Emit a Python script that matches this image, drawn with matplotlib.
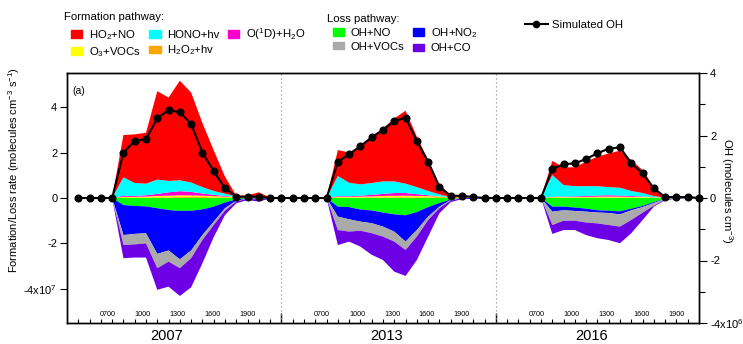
import numpy as np
import matplotlib.pyplot as plt
from matplotlib.patches import Patch
from matplotlib.lines import Line2D

plt.rcParams['font.family'] = ['Liberation Sans', 'DejaVu Sans']
plt.rcParams['mathtext.fontset'] = 'custom'
plt.rcParams['mathtext.rm'] = 'Liberation Sans'
plt.rcParams['mathtext.default'] = 'regular'

years = ['2007', '2013', '2016']
hour_labels = ['0700', '1000', '1300', '1600', '1900']
# one point per hour from 0400; 2007 and 2013 run to 2200, 2016 to 2100

# formation rates (1e7 molecules cm-3 s-1), one list per year
h2o2_hv = [[0, 0, 0, 0, .02, .02, .02, .03, .03, .04, .04, .04, .03, .03, .03, .03, .03, .01, 0],
           [0, 0, 0, 0, .02, .02, .02, .03, .03, .03, .03, .03, .03, .04, .03, .05, .05, .03, 0],
           [0, 0, 0, 0, .02, .02, .02, .02, .02, .02, .02, .02, .02, .02, .01, .02, .02, .02]]
o3_vocs = [[0, 0, 0, 0, .03, .03, .04, .06, .07, .08, .07, .06, .05, .03, .02, .02, .01, .01, 0],
           [0, 0, 0, 0, .03, .03, .04, .04, .06, .07, .07, .06, .05, .03, .01, .01, .01, 0, 0],
           [0, 0, 0, 0, .02, .02, .02, .03, .04, .04, .04, .03, .03, .01, 0, .01, .01, .01]]
o1d_h2o = [[0, 0, 0, 0, .05, .04, .06, .09, .15, .18, .16, .10, .06, .03, 0, 0, 0, 0, 0],
           [0, 0, 0, 0, .03, .03, .04, .07, .09, .12, .12, .08, .04, 0, 0, 0, 0, 0, 0],
           [0, 0, 0, 0, .02, .02, .03, .04, .05, .06, .05, .04, .02, .01, 0, 0, 0, 0]]
hono_hv = [[0, 0, 0, 0, .81, .57, .51, .63, .50, .48, .41, .28, .17, .10, .02, 0, 0, 0, 0],
           [0, 0, 0, 0, .89, .59, .50, .52, .55, .51, .41, .31, .19, .09, 0, 0, 0, 0, 0],
           [0, 0, 0, 0, .95, .51, .45, .43, .41, .36, .34, .22, .15, .05, 0, 0, 0, 0]]
ho2_no = [[0, 0, 0, 0, 1.86, 2.14, 2.24, 3.89, 3.67, 4.38, 3.96, 2.82, 1.79, .75, .03, .07, .21, 0, 0],
          [0, 0, 0, 0, 1.14, 1.33, 1.69, 2.04, 2.33, 2.77, 3.21, 2.22, 1.36, .41, .09, .01, 0, 0, 0],
          [0, 0, 0, 0, .62, .78, .83, 1.08, 1.30, 1.48, 1.63, 1.36, 1.01, .38, .03, 0, 0, 0]]

# loss rates (1e7 molecules cm-3 s-1)
oh_no = [[0, 0, 0, 0, .31, .35, .37, .45, .53, .57, .56, .50, .38, .20, .06, .01, .01, 0, 0],
         [0, 0, 0, 0, .38, .40, .51, .55, .64, .72, .76, .62, .40, .22, .07, 0, 0, 0, 0],
         [0, 0, 0, 0, .38, .38, .42, .47, .54, .56, .59, .47, .35, .18, .03, 0, 0, 0]]
oh_no2 = [[0, 0, 0, 0, 1.32, 1.23, 1.18, 2.01, 1.78, 2.13, 1.75, 1.13, .66, .25, .06, .02, .03, 0, 0],
          [0, 0, 0, 0, .44, .54, .53, .56, .62, .76, 1.16, .79, .42, .16, .02, 0, 0, 0, 0],
          [0, 0, 0, 0, .22, .16, .15, .13, .10, .10, .13, .07, .05, .04, .01, 0, 0, 0]]
oh_vocs = [[0, 0, 0, 0, .44, .46, .45, .63, .49, .39, .34, .22, .15, .11, .03, .01, .02, 0, 0],
           [0, 0, 0, 0, .59, .54, .40, .44, .44, .44, .37, .29, .15, .07, .03, 0, 0, 0, 0],
           [0, 0, 0, 0, .59, .46, .43, .48, .48, .53, .54, .43, .25, .12, .03, 0, 0, 0]]
oh_co = [[0, 0, 0, 0, .58, .58, .62, .95, 1.10, 1.22, 1.28, 1.02, .53, .19, .08, .05, .10, .02, 0],
         [0, 0, 0, 0, .66, .44, .70, .95, 1.03, 1.32, 1.14, 1.03, .73, .22, .06, .05, .04, .01, 0],
         [0, 0, 0, 0, .39, .41, .41, .55, .65, .66, .73, .58, .32, .04, .03, .03, .02, .01]]

# simulated OH (1e6 molecules cm-3)
oh_sim = [[0, 0, 0, 0, 1.45, 1.83, 1.88, 2.55, 2.82, 2.74, 2.37, 1.45, .86, .31, .04, .04, .04, 0, 0],
          [0, 0, 0, 0, 1.16, 1.40, 1.66, 1.94, 2.18, 2.46, 2.57, 1.82, 1.16, .36, .07, .07, .03, 0, 0],
          [0, 0, 0, 0, .93, 1.08, 1.11, 1.25, 1.43, 1.58, 1.62, 1.11, .79, .31, .03, .03, .03, 0]]

form_names = ['H$_2$O$_2$+hv', 'O$_3$+VOCs', 'O($^1$D)+H$_2$O', 'HONO+hv', 'HO$_2$+NO']
form_colors = ['#ffa500', '#ffff00', '#ff00cc', '#00ffff', '#ff0000']
loss_names = ['OH+NO', 'OH+NO$_2$', 'OH+VOCs', 'OH+CO']
loss_colors = ['#00ff00', '#0000ff', '#aaaaaa', '#6e00e6']

panel_len = 19
offsets = [i * panel_len for i in range(len(years))]
x = np.concatenate([off + np.arange(len(v)) for off, v in zip(offsets, oh_sim)])

def flat(series):
    return np.concatenate([np.array(v, float) for v in series])

form = [flat(s) for s in [h2o2_hv, o3_vocs, o1d_h2o, hono_hv, ho2_no]]
loss = [-flat(s) for s in [oh_no, oh_no2, oh_vocs, oh_co]]

fig = plt.figure(figsize=(7.43, 3.44), dpi=100)
ax = fig.add_axes([67 / 743, 21 / 344, 632 / 743, 250 / 344])
ax.stackplot(x, *form, colors=form_colors, linewidth=0)
ax.stackplot(x, *loss, colors=loss_colors, linewidth=0)

ax.set_xlim(-1, 55)
ax.set_ylim(-5.5, 5.5)
seps = [off + panel_len - 1 for off in offsets[:-1]]
for s in seps:
    ax.axvline(s, color='#999999', ls=(0, (1, 2.2)), lw=0.9)

ax.set_xticks(seps)
ax.set_xticks([i for i in range(0, 56) if i not in seps], minor=True)
ax.set_xticklabels([])
ax.tick_params(axis='x', which='major', direction='in', length=7, width=1)
ax.tick_params(axis='x', which='minor', direction='in', length=3, width=0.8)

ax.set_yticks([-4, -2, 0, 2, 4])
ax.set_yticklabels(['-4x10$^{7}$', '-2', '0', '2', '4'])
ax.tick_params(axis='y', direction='out', length=5, width=0.8, labelsize=8, pad=2)
ax.set_ylabel('Formation/Loss rate (molecules cm$^{-3}$ s$^{-1}$)', fontsize=8)
ax.yaxis.set_label_coords(-0.071, 0.612)

label_pos = [2.6, 5.7, 8.8, 11.9, 15.0]
year_pos = [7.8, 8.3, 7.5]
for off, yr, yp in zip(offsets, years, year_pos):
    for lp, hl in zip(label_pos, hour_labels):
        ax.text(off + lp, 0.036, hl, transform=ax.get_xaxis_transform(),
                ha='center', va='center', fontsize=5.2)
    ax.text(off + yp, -0.052, yr, transform=ax.get_xaxis_transform(),
            ha='center', va='center', fontsize=10.5)

ax.text(0.009, 0.928, '(a)', transform=ax.transAxes, ha='left', va='center', fontsize=7.5)

ax2 = ax.twinx()
ax2.plot(x, flat(oh_sim), color='k', lw=1.5, marker='o', ms=4.8, clip_on=False, zorder=5)
ax2.set_ylim(-4, 4)
ax2.set_yticks([-4, -2, 0, 2, 4])
ax2.set_yticklabels(['-4x10$^{6}$', '-2', '0', '2', '4'])
ax2.set_yticks([-3, -1, 1, 3], minor=True)
ax2.tick_params(axis='y', which='major', direction='out', length=6, width=0.8, labelsize=8, pad=2)
ax2.tick_params(axis='y', which='minor', direction='out', length=4, width=0.8)
ax2.set_ylabel('OH (molecules cm$^{-3}$)', fontsize=8, rotation=-90)
ax2.yaxis.set_label_coords(1.057, 0.528)

for a in (ax, ax2):
    for sp in a.spines.values():
        sp.set_linewidth(1)

# legends
fs = 8.2
fig.text(64 / 743, 1 - 17 / 344, 'Formation pathway:', fontsize=fs, va='center')
fig.text(327 / 743, 1 - 19 / 344, 'Loss pathway:', fontsize=fs, va='center')
leg_kw = dict(frameon=False, loc='upper left', fontsize=fs,
              handlelength=1.0, handleheight=0.65, handletextpad=0.55,
              columnspacing=0.75, labelspacing=0.32, borderpad=0, borderaxespad=0)
fo = [4, 1, 3, 0, 2]
fig.legend([Patch(color=form_colors[i]) for i in fo], [form_names[i] for i in fo], ncol=3,
           bbox_to_anchor=(71 / 743, 1 - 26 / 344), **leg_kw)
lo = [0, 2, 1, 3]
fig.legend([Patch(color=loss_colors[i]) for i in lo], [loss_names[i] for i in lo], ncol=2,
           bbox_to_anchor=(333 / 743, 1 - 26 / 344), **leg_kw)
fig.legend([Line2D([], [], color='k', lw=1.5, marker='o', ms=4.5)], ['Simulated OH'],
           frameon=False, loc='upper left', fontsize=fs, handlelength=2.0, handletextpad=0.35,
           borderpad=0, borderaxespad=0, bbox_to_anchor=(525 / 743, 1 - 20 / 344))

fig.savefig('out.png', dpi=100)
